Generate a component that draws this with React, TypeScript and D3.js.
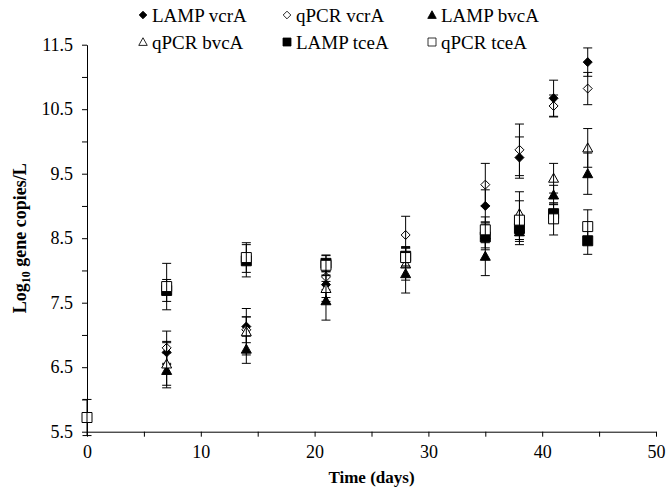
import React, { useEffect, useRef } from "react";
import * as d3 from "d3";

const days = [7, 14, 21, 28, 35, 38, 41, 44];
const daysTce = [0, 7, 14, 21, 28, 35, 38, 41, 44];

const lampVcrA = [6.73, 7.13, 7.78, 8.2, 9.0, 9.75, 10.67, 11.23];
const lampVcrAErr = [0.17, 0.15, 0.2, 0.15, 0.25, 0.32, 0.28, 0.22];
const qpcrVcrA = [6.8, 7.08, 7.9, 8.55, 9.33, 9.87, 10.55, 10.82];
const qpcrVcrAErr = [0.26, 0.2, 0.2, 0.29, 0.33, 0.4, 0.17, 0.25];
const lampBvcA = [6.45, 6.78, 7.53, 7.95, 8.22, 8.6, 9.17, 9.5];
const lampBvcAErr = [0.27, 0.22, 0.3, 0.3, 0.3, 0.2, 0.15, 0.32];
const qpcrBvcA = [6.55, 7.05, 7.72, 8.1, 8.55, 8.88, 9.43, 9.9];
const qpcrBvcAErr = [0.33, 0.36, 0.2, 0.25, 0.2, 0.34, 0.23, 0.3];
const lampTceA = [7.69, 8.15, 8.11, 8.22, 8.52, 8.65, 8.88, 8.46];
const lampTceAErr = [0.17, 0.25, 0.13, 0.15, 0.2, 0.2, 0.15, 0.21];
const qpcrTceA = [5.72, 7.75, 8.2, 8.08, 8.2, 8.63, 8.78, 8.8, 8.68];
const qpcrTceAErr = [0.28, 0.36, 0.23, 0.15, 0.15, 0.2, 0.3, 0.25, 0.26];

const seriesNames = ["LAMP vcrA", "qPCR vcrA", "LAMP bvcA", "qPCR bvcA", "LAMP tceA", "qPCR tceA"];
const xTicks = [0, 5, 10, 15, 20, 25, 30, 35, 40, 45, 50];
const yTicks = [5.5, 6, 6.5, 7, 7.5, 8, 8.5, 9, 9.5, 10, 10.5, 11, 11.5];

type Shape = "diamond" | "triangle" | "square";
const seriesDefs: { name: string; x: number[]; y: number[]; e: number[]; shape: Shape; filled: boolean }[] = [
  { name: seriesNames[0], x: days, y: lampVcrA, e: lampVcrAErr, shape: "diamond", filled: true },
  { name: seriesNames[1], x: days, y: qpcrVcrA, e: qpcrVcrAErr, shape: "diamond", filled: false },
  { name: seriesNames[2], x: days, y: lampBvcA, e: lampBvcAErr, shape: "triangle", filled: true },
  { name: seriesNames[3], x: days, y: qpcrBvcA, e: qpcrBvcAErr, shape: "triangle", filled: false },
  { name: seriesNames[4], x: days, y: lampTceA, e: lampTceAErr, shape: "square", filled: true },
  { name: seriesNames[5], x: daysTce, y: qpcrTceA, e: qpcrTceAErr, shape: "square", filled: false },
];

const W = 668;
const H = 489;
const FONT = "'Liberation Serif', 'Times New Roman', serif";

function markerPath(shape: Shape): string {
  if (shape === "diamond") return "M0,-4.5L4.5,0L0,4.5L-4.5,0Z";
  if (shape === "triangle") return "M0,-5L5,4L-5,4Z";
  return "M-5,-5L5,-5L5,5L-5,5Z";
}

export default function App() {
  const ref = useRef<SVGSVGElement>(null);
  useEffect(() => {
    const svg = d3.select(ref.current);
    svg.selectAll("*").remove();
    const x = d3.scaleLinear().domain([0, 50]).range([87, 656]);
    const y = d3.scaleLinear().domain([5.5, 11.5]).range([431.7, 44.7]);

    const yAxis = d3
      .axisLeft(y)
      .tickValues(yTicks)
      .tickSize(5)
      .tickSizeOuter(0)
      .tickPadding(9)
      .tickFormat((d: any) => (Math.abs((d as number) % 1 - 0.5) < 1e-6 ? d3.format(".1f")(d as number) : ""));
    const gy = svg.append("g").attr("transform", `translate(${x(0)},0)`).call(yAxis);
    gy.selectAll("text").attr("font-family", FONT).attr("font-size", 18).attr("fill", "#000");
    gy.selectAll("line,path").attr("stroke", "#000");

    const xAxis = d3
      .axisBottom(x)
      .tickValues(xTicks)
      .tickSize(5)
      .tickSizeOuter(0)
      .tickPadding(9)
      .tickFormat((d: any) => ((d as number) % 10 === 0 ? String(d) : ""));
    const gx = svg.append("g").attr("transform", `translate(0,${y(5.5)})`).call(xAxis);
    gx.selectAll("text").attr("font-family", FONT).attr("font-size", 18).attr("fill", "#000");
    gx.selectAll("line,path").attr("stroke", "#000");

    // data
    const plot = svg.append("g");
    seriesDefs.forEach((s) => {
      const g = plot.append("g");
      s.x.forEach((dx, i) => {
        const cx = x(dx);
        const cy = y(s.y[i]);
        g.append("path")
          .attr("d", markerPath(s.shape))
          .attr("transform", `translate(${cx},${cy})`)
          .attr("fill", s.filled ? "#000" : "#fff")
          .attr("stroke", "#000")
          .attr("stroke-width", 1);
        const y1 = y(s.y[i] + s.e[i]);
        const y2 = y(s.y[i] - s.e[i]);
        g.append("line").attr("x1", cx).attr("x2", cx).attr("y1", y1).attr("y2", y2).attr("stroke", "#000").attr("stroke-width", 1);
        [y1, y2].forEach((yy) =>
          g.append("line").attr("x1", cx - 4.5).attr("x2", cx + 4.5).attr("y1", yy).attr("y2", yy).attr("stroke", "#000").attr("stroke-width", 1)
        );
      });
    });

    // axis titles
    svg
      .append("text")
      .attr("x", (x(0) + x(50)) / 2)
      .attr("y", 483)
      .attr("text-anchor", "middle")
      .attr("font-family", FONT)
      .attr("font-size", 17)
      .attr("font-weight", "bold")
      .text("Time (days)");

    const yl = svg
      .append("text")
      .attr("transform", `translate(26,${(y(5.5) + y(11.5)) / 2}) rotate(-90)`)
      .attr("text-anchor", "middle")
      .attr("font-family", FONT)
      .attr("font-size", 18)
      .attr("font-weight", "bold");
    yl.append("tspan").text("Log");
    yl.append("tspan").attr("font-size", 12).attr("dy", 4).text("10");
    yl.append("tspan").attr("dy", -4).text(" gene copies/L");

    // legend
    const legX = [143, 287, 432];
    const legY = [15, 42];
    seriesDefs.forEach((s, i) => {
      const cx = legX[i % 3];
      const cy = legY[Math.floor(i / 3)];
      const sc = s.shape === "square" ? 0.8 : 0.85;
      svg
        .append("path")
        .attr("d", markerPath(s.shape))
        .attr("transform", `translate(${cx},${cy}) scale(${sc})`)
        .attr("fill", s.filled ? "#000" : "#fff")
        .attr("stroke", "#000")
        .attr("stroke-width", 1);
      svg
        .append("text")
        .attr("x", cx + 9)
        .attr("y", cy)
        .attr("dy", "0.35em")
        .attr("font-family", FONT)
        .attr("font-size", 19)
        .text(s.name);
    });
  }, []);

  return (
    <svg
      ref={ref}
      width={W}
      height={H}
      style={{ position: "absolute", left: 0, top: 0, background: "#fff", display: "block" }}
    />
  );
}
